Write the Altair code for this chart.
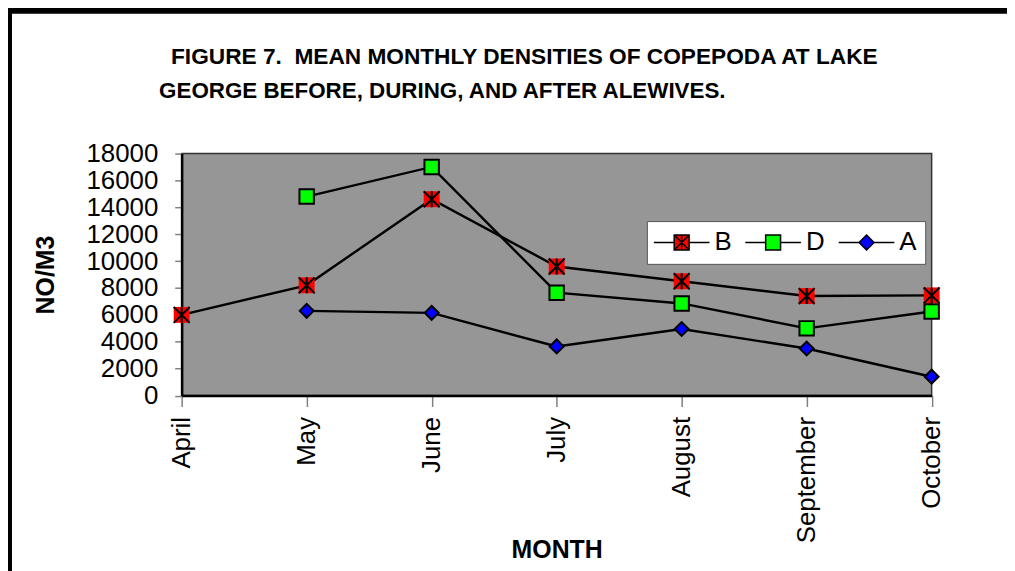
import altair as alt
import pandas as pd

months = ["April", "May", "June", "July", "August", "September", "October"]
b_vals = [6000, 8200, 14600, 9600, 8500, 7400, 7450]
d_vals = [None, 14800, 17000, 7650, 6850, 5000, 6250]
a_vals = [None, 6300, 6150, 3650, 4950, 3500, 1400]
series_names = ["B", "D", "A"]
series_colors = ["#ff0000", "#00ff00", "#0000ff"]
y_ticks = list(range(0, 18001, 2000))
title_lines = ["FIGURE 7.\u00a0 MEAN MONTHLY DENSITIES OF COPEPODA AT LAKE",
               "GEORGE BEFORE, DURING, AND AFTER ALEWIVES."]
x_title = "MONTH"
y_title = "NO/M3"

rows = []
for name, vals in zip(series_names, [b_vals, d_vals, a_vals]):
    for m, v in zip(months, vals):
        if v is not None:
            rows.append({"month": m, "value": v, "series": name})
df = pd.DataFrame(rows)

FONT = "Liberation Sans"
W, H = 754.5, 243.5

x_enc = alt.X("month:N", sort=months,
              scale=alt.Scale(type="point", padding=0, domain=months),
              axis=alt.Axis(title=x_title, labelAngle=270, labelFont=FONT, labelFontSize=26,
                            labelColor="black", labelPadding=10, tickSize=11, tickColor="#808080",
                            tickWidth=1.5, domainColor="black", domainWidth=2.5, grid=False,
                            titleFont=FONT, titleFontSize=25, titleFontWeight="bold",
                            titleColor="black", titleX=W / 2, titleY=155,
                            titleAlign="center", titleBaseline="middle"))
y_enc = alt.Y("value:Q", scale=alt.Scale(domain=[0, 18000], nice=False),
              axis=alt.Axis(title=y_title, values=y_ticks, format="d", labelFont=FONT,
                            labelFontSize=26, labelColor="black", labelPadding=17, tickSize=7,
                            tickColor="#808080", tickWidth=1.5, domainColor="black",
                            domainWidth=2.5, grid=False, titleFont=FONT, titleFontSize=25,
                            titleFontWeight="bold", titleColor="black", titleAngle=270,
                            titleX=-136.7, titleY=H / 2, titleAlign="center",
                            titleBaseline="middle"))

base = alt.Chart(df)

frame = alt.Chart(alt.Data(values=[{"k": 1}])).mark_rect(
    fillOpacity=0, stroke="black", strokeWidth=6
).encode(x=alt.value(-173.7), x2=alt.value(900), y=alt.value(-143.7), y2=alt.value(700))

title1 = alt.Chart(alt.Data(values=[{"t": title_lines[0]}])).mark_text(
    font=FONT, fontSize=22.8, fontWeight="bold", color="black", align="left", baseline="middle"
).encode(text="t:N", x=alt.value(-10.7), y=alt.value(-96.7))
title2 = alt.Chart(alt.Data(values=[{"t": title_lines[1]}])).mark_text(
    font=FONT, fontSize=22.5, fontWeight="bold", color="black", align="left", baseline="middle"
).encode(text="t:N", x=alt.value(-22.7), y=alt.value(-62.7))

lines = base.mark_line(color="black", strokeWidth=2.4).encode(
    x=x_enc, y=y_enc, detail="series:N")

b_sq = base.transform_filter(alt.datum.series == "B").mark_square(
    size=256, color="#ff0000", opacity=1, filled=True
).encode(x=x_enc, y=y_enc)
b_star = base.transform_filter(alt.datum.series == "B").mark_point(
    shape="M-1,-1L1,1M1,-1L-1,1M0,-1V1", size=256, stroke="black", strokeWidth=2,
    filled=False, opacity=1
).encode(x=x_enc, y=y_enc)
d_sq = base.transform_filter(alt.datum.series == "D").mark_square(
    size=210, fill="#00ff00", stroke="black", strokeWidth=2, filled=True, opacity=1
).encode(x=x_enc, y=y_enc)
a_dm = base.transform_filter(alt.datum.series == "A").mark_point(
    shape="diamond", size=196, fill="#0000ff", stroke="black", strokeWidth=2,
    filled=True, opacity=1
).encode(x=x_enc, y=y_enc)

legend_paths = [
    "M-3.73,0H-1M1,0H3.73M-1,-1H1V1H-1ZM-1,-1L1,1M1,-1L-1,1M0,-1V1",
    "M-3.73,0H-1M1,0H3.73M-1,-1H1V1H-1Z",
    "M-3.73,0H-1M1,0H3.73M0,-1L1,0L0,1L-1,0Z",
]
legend_layer = base.transform_filter("false").mark_point(
    filled=True, stroke="black", strokeWidth=1.5, size=225, opacity=1
).encode(
    x=x_enc, y=y_enc,
    fill=alt.Fill("series:N", scale=alt.Scale(domain=series_names, range=series_colors),
                  legend=alt.Legend(orient="none", legendX=468, legendY=68,
                                    direction="horizontal", title=None, fillColor="white",
                                    strokeColor="#555555", padding=8.5, labelFont=FONT,
                                    labelFontSize=26, labelColor="black", columnPadding=10,
                                    symbolOffset=13.5, labelOffset=20, symbolSize=225,
                                    symbolStrokeColor="black", symbolStrokeWidth=1.5)),
    shape=alt.Shape("series:N", scale=alt.Scale(domain=series_names, range=legend_paths)),
)

chart = alt.layer(frame, title1, title2, lines, b_sq, b_star, d_sq, a_dm, legend_layer).properties(
    width=W, height=H,
    padding={"left": 174.7, "top": 144.7, "right": 75.8, "bottom": 174.8},
    autosize=alt.AutoSizeParams(type="none"),
    background="white",
).configure_view(fill="#969696", stroke="#333333", strokeWidth=1.5)

chart.save("out.html", embed_options={"renderer": "svg", "actions": False})
